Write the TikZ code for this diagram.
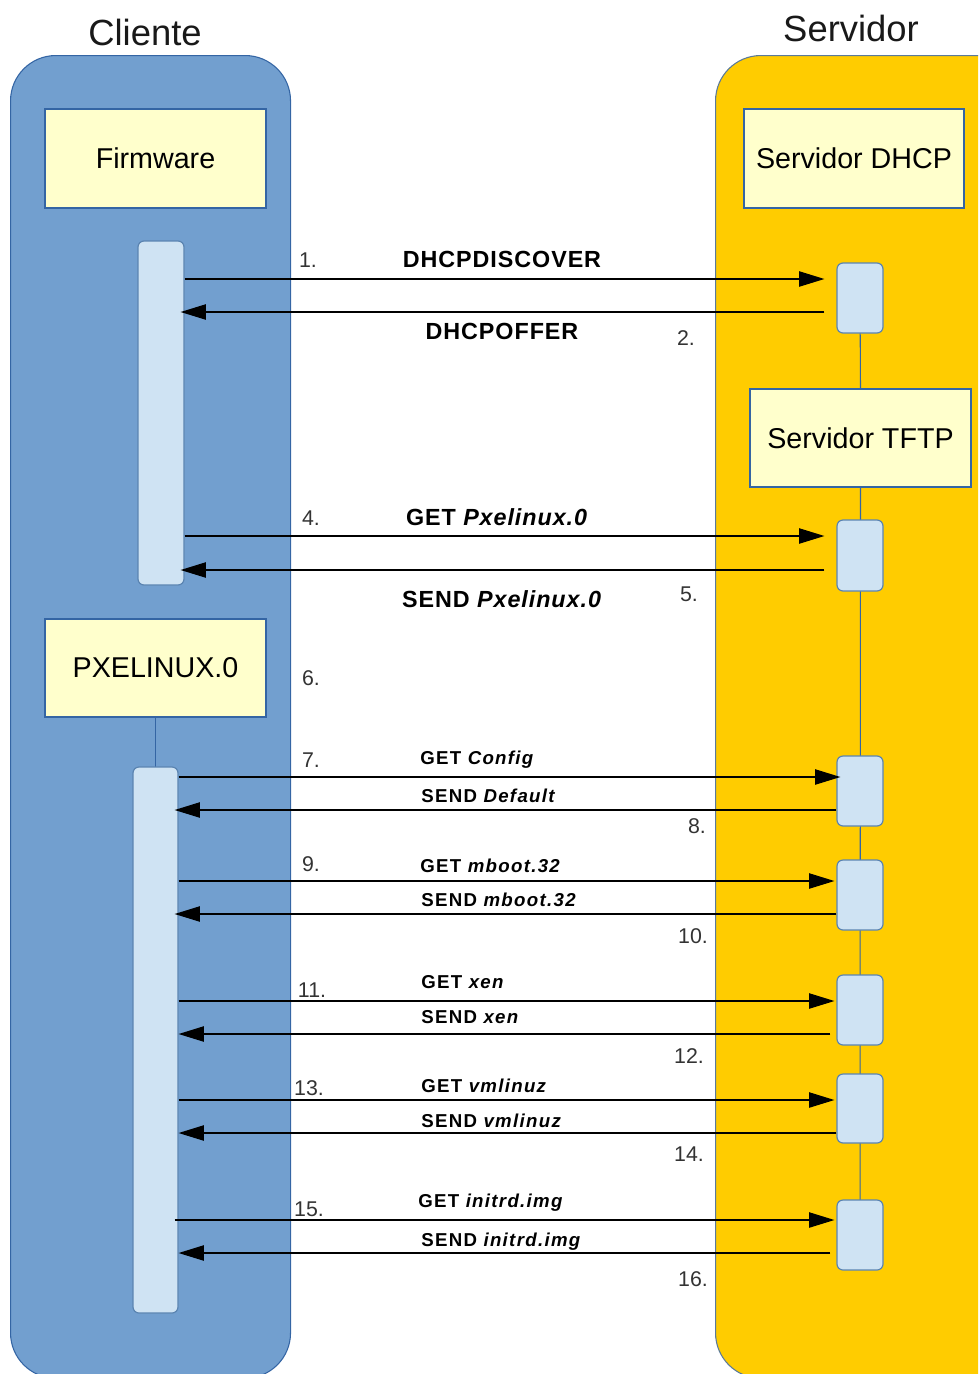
\documentclass[tikz,border=0pt]{standalone}
\usepackage{fontspec}
\setmainfont{Liberation Sans}
\usetikzlibrary{arrows.meta}
\definecolor{laneblue}{HTML}{729FCF}
\definecolor{lanestroke}{HTML}{3465A4}
\definecolor{laneyellow}{HTML}{FFCC00}
\definecolor{ystroke}{HTML}{5A7A9A}
\definecolor{boxfill}{HTML}{FFFFCC}
\definecolor{actfill}{HTML}{CFE3F3}
\definecolor{actstroke}{HTML}{5B84B1}
\definecolor{numcol}{HTML}{333333}
\begin{document}
\begin{tikzpicture}[x=0.75pt,y=-0.75pt,
  lane/.style={draw, line width=0.8pt, rounded corners=34pt, inner sep=0pt},
  compbox/.style={draw=lanestroke, fill=boxfill, line width=0.8pt, inner sep=0pt,
    font=\fontsize{21.5}{25}\selectfont, text=black},
  act/.style={draw=actstroke, fill=actfill, line width=0.9pt, rounded corners=4.5pt, inner sep=0pt, minimum width=34.5pt},
  life/.style={draw=lanestroke, line width=0.8pt},
  msg/.style={draw=black, line width=0.9pt, -{Triangle[length=19pt,width=11.5pt]}},
  num/.style={anchor=base, inner sep=0pt, text=numcol, font=\fontsize{16}{18}\selectfont},
  big/.style={anchor=base, inner sep=0pt, font=\bfseries\fontsize{17.5}{20}\selectfont\addfontfeature{LetterSpace=4}},
  small/.style={anchor=base west, inner sep=0pt, font=\bfseries\fontsize{14}{17}\selectfont\addfontfeature{LetterSpace=7}},
  title/.style={anchor=base, inner sep=0pt, text=black!90, font=\fontsize{27.3}{32}\selectfont}
]
\useasboundingbox (0,0) rectangle (978,1374);
\clip (0,0) rectangle (978,1374);

% lanes
\node[lane, draw=lanestroke, fill=laneblue, minimum width=210pt, minimum height=992pt, anchor=north west] (laneL) at (10,55) {};
\node[lane, draw=ystroke, fill=laneyellow, minimum width=240pt, minimum height=992pt, anchor=north west] (laneR) at (715,55) {};

% titles
\node[title] (tC) at (145,45) {Cliente};
\node[title] (tS) at (851,41) {Servidor};

% component boxes
\node[compbox, minimum width=165.75pt, minimum height=74.25pt] (fw) at (155.5,158.5) {Firmware};
\node[compbox, minimum width=165pt, minimum height=74.25pt] (dhcp) at (854,158.5) {Servidor DHCP};
\node[compbox, minimum width=165.75pt, minimum height=73.5pt] (tftp) at (860.5,438) {Servidor TFTP};
\node[compbox, minimum width=165.75pt, minimum height=73.5pt] (pxe) at (155.5,668) {PXELINUX.0};

% lifelines
\coordinate (ra0) at (860,298);
\coordinate (rg0) at (860,1235);
\draw[life] (ra0) -- (tftp.north);
\draw[life] (tftp.south) -- (rg0);
\draw[life] (pxe.south) -- (155.5,767);

% activations
\node[act, minimum height=258pt] (L1) at (161,413) {};
\node[act, minimum width=33.75pt, minimum height=409.5pt] (L2) at (155.5,1040) {};
\node[act, minimum height=52.5pt] (Ra) at (860,298) {};
\node[act, minimum height=53.25pt] (Rb) at (860,555.5) {};
\node[act, minimum height=52.5pt] (Rc) at (860,791) {};
\node[act, minimum height=52.5pt] (Rd) at (860,895) {};
\node[act, minimum height=52.5pt] (Re) at (860,1010) {};
\node[act, minimum height=51.75pt] (Rf) at (860,1108.5) {};
\node[act, minimum height=52.5pt] (Rg) at (860,1235) {};

% messages
\draw[msg, shorten >=9pt] (L1.east |- 0,279) -- (Ra.west |- 0,279);
\draw[msg, shorten <=9pt, shorten >=-3pt] (Ra.west |- 0,312) -- (L1.east |- 0,312);
\draw[msg, shorten >=9pt] (L1.east |- 0,536) -- (Rb.west |- 0,536);
\draw[msg, shorten <=9pt, shorten >=-3pt] (Rb.west |- 0,570) -- (L1.east |- 0,570);
\draw[msg, shorten >=-3pt] (L2.east |- 0,777) -- (Rc.west |- 0,777);
\draw[msg, shorten >=-3pt] (Rc.west |- 0,810) -- (L2.east |- 0,810);
\draw[msg, shorten >=1.5pt] (L2.east |- 0,881) -- (Rd.west |- 0,881);
\draw[msg, shorten >=-3pt] (Rd.west |- 0,914) -- (L2.east |- 0,914);
\draw[msg, shorten >=1.5pt] (L2.east |- 0,1001) -- (Re.west |- 0,1001);
\draw[msg, shorten <=4.5pt] (Re.west |- 0,1034) -- (L2.east |- 0,1034);
\draw[msg, shorten >=1.5pt] (L2.east |- 0,1100) -- (Rf.west |- 0,1100);
\draw[msg] (Rf.west |- 0,1133) -- (L2.east |- 0,1133);
\draw[msg, shorten <=-3pt, shorten >=1.5pt] (L2.east |- 0,1220) -- (Rg.west |- 0,1220);
\draw[msg, shorten <=4.5pt] (Rg.west |- 0,1253) -- (L2.east |- 0,1253);

% labels
\node[num] (n1) at (308,267) {1.};
\node[big] (m1) at (502,267) {DHCPDISCOVER};
\node[big] (m2) at (502,339) {DHCPOFFER};
\node[num] (n2) at (686,345) {2.};
\node[num] (n4) at (311,525) {4.};
\node[big] (m4) at (497,525) {GET \textit{Pxelinux.0}};
\node[big] (m5) at (502,607) {SEND \textit{Pxelinux.0}};
\node[num] (n5) at (689,601) {5.};
\node[num] (n6) at (311,685) {6.};
\node[num] (n7) at (311,767) {7.};
\node[small] (m7) at (420,764) {GET \textit{Config}};
\node[small] (m8) at (421,802) {SEND \textit{Default}};
\node[num] (n8) at (697,833) {8.};
\node[num] (n9) at (311,871) {9.};
\node[small] (m9) at (420,872) {GET \textit{mboot.32}};
\node[small] (m10) at (421,906) {SEND \textit{mboot.32}};
\node[num] (n10) at (693,943) {10.};
\node[num] (n11) at (312,997) {11.};
\node[small] (m11) at (421,988) {GET \textit{xen}};
\node[small] (m12) at (421,1023) {SEND \textit{xen}};
\node[num] (n12) at (689,1063) {12.};
\node[num] (n13) at (309,1095) {13.};
\node[small] (m13) at (421,1092) {GET \textit{vmlinuz}};
\node[small] (m14) at (421,1127) {SEND \textit{vmlinuz}};
\node[num] (n14) at (689,1161) {14.};
\node[num] (n15) at (309,1216) {15.};
\node[small] (m15) at (418,1207) {GET \textit{initrd.img}};
\node[small] (m16) at (421,1246) {SEND \textit{initrd.img}};
\node[num] (n16) at (693,1286) {16.};
\end{tikzpicture}
\end{document}
